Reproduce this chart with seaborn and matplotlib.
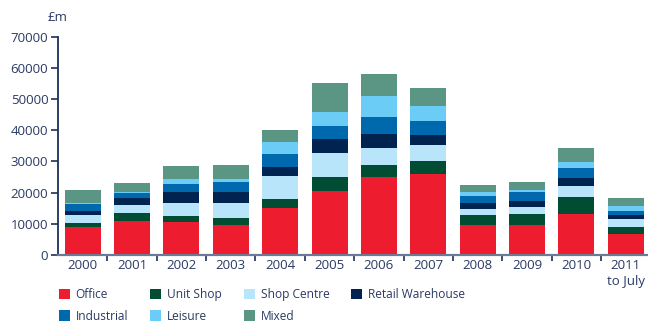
import numpy as np
import pandas as pd
import matplotlib
matplotlib.use("Agg")
import matplotlib.pyplot as plt
from matplotlib.patches import Patch
from matplotlib.ticker import FixedLocator
import seaborn as sns

# Investment volumes by property sector, £m
years = ["2000", "2001", "2002", "2003", "2004", "2005", "2006",
         "2007", "2008", "2009", "2010", "2011\nto July"]
office = [9000, 10900, 10570, 9620, 15170, 20510, 25000, 25960, 9620, 9620, 13140, 6730]
unit_shop = [1300, 2550, 1930, 2240, 2780, 4490, 3840, 4170, 3200, 3520, 5450, 2240]
shop_centre = [2550, 2550, 4170, 4810, 7370, 7690, 5450, 5130, 1920, 2240, 3530, 2570]
retail_warehouse = [1300, 2250, 3520, 3520, 2880, 4490, 4490, 3200, 1930, 1930, 2560, 1280]
industrial = [2150, 1600, 2570, 3210, 4170, 4170, 5450, 4490, 2240, 2880, 3200, 1280]
leisure = [350, 300, 1600, 960, 3840, 4480, 6730, 4800, 1280, 640, 1930, 1600]
mixed = [4250, 3000, 4160, 4480, 3850, 9300, 7050, 5770, 2250, 2570, 4480, 2570]

sectors = ["Office", "Unit Shop", "Shop Centre", "Retail Warehouse",
           "Industrial", "Leisure", "Mixed"]
series = [office, unit_shop, shop_centre, retail_warehouse, industrial, leisure, mixed]
colors = ["#ED1C2E", "#004D33", "#B9E5FA", "#00234F", "#0068AC", "#6BCDF5", "#5B9584"]

text_color = "#2B3A64"
axis_color = "#1E2F5A"

sns.set_theme(style="white")
plt.rcParams["font.family"] = ["Open Sans", "DejaVu Sans"]

df = pd.DataFrame({"year": years})
cum = np.zeros(len(years))
for name, vals in zip(sectors, series):
    cum = cum + np.array(vals)
    df[name] = cum

fig = plt.figure(figsize=(6.48, 3.24), dpi=100)
ax = fig.add_axes([0.0895, 0.213, 0.9105, 0.674])

# stacked bars: draw cumulative totals from the top layer down
for name, col in reversed(list(zip(sectors, colors))):
    sns.barplot(data=df, x="year", y=name, color=col, saturation=1,
                width=0.73, errorbar=None, ax=ax, linewidth=0)

ax.set_xlim(-0.5, 11.45)
ax.set_ylim(0, 70000)
ax.set_yticks(np.arange(0, 70001, 10000))
ax.set_yticklabels([str(v) for v in range(0, 70001, 10000)])
ax.set_xlabel("")
ax.set_ylabel("")

for side in ["top", "right"]:
    ax.spines[side].set_visible(False)
ax.spines["left"].set_color(axis_color)
ax.spines["left"].set_linewidth(1.3)
ax.spines["bottom"].set_color("#6C7A96")
ax.spines["bottom"].set_linewidth(1.6)

ax.tick_params(axis="y", which="major", length=5, width=1.2, color=axis_color,
               labelsize=9.5, labelcolor=text_color, pad=2, left=True)
ax.tick_params(axis="x", which="major", length=0, labelsize=9.5,
               labelcolor=text_color, pad=3)
ax.xaxis.set_minor_locator(FixedLocator(np.arange(0.5, 11, 1)))
ax.tick_params(axis="x", which="minor", length=4, width=1.2, color=axis_color,
               bottom=True, direction="out")
for lbl in ax.get_xticklabels():
    lbl.set_linespacing(1.3)
    lbl.set_verticalalignment("top")

fig.text(0.0895, 0.947, "£m", ha="center", va="center", fontsize=9.5, color=text_color)

# legend rows: Office, Unit Shop, Shop Centre, Retail Warehouse / Industrial, Leisure, Mixed
order = [0, 4, 1, 5, 2, 6, 3]
handles = [Patch(facecolor=colors[i], edgecolor="none", label=sectors[i]) for i in order]
leg = fig.legend(handles=handles, ncol=4, loc="upper left",
                 bbox_to_anchor=(0.091, 0.111), frameon=False,
                 fontsize=8.6, handlelength=0.92, handleheight=0.92,
                 handletextpad=0.48, columnspacing=1.85, labelspacing=0.72,
                 borderaxespad=0, borderpad=0, labelcolor=text_color)

fig.savefig("out.png", dpi=100)
